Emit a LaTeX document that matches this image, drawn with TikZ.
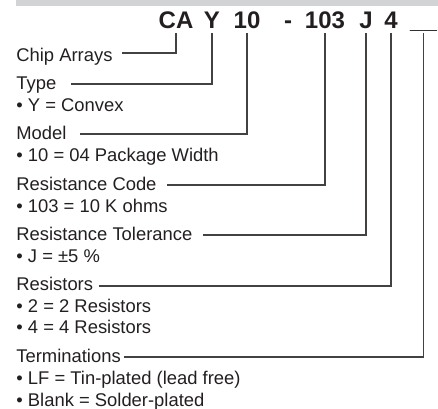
\documentclass[tikz,border=0pt]{standalone}
\usepackage{fontspec}
\setmainfont{Liberation Sans}
\definecolor{barcolor}{RGB}{209,211,212}
\definecolor{inkcolor}{RGB}{35,31,32}

\begin{document}
\begin{tikzpicture}[x=0.5pt,y=-0.5pt,
  codepart/.style={anchor=base,inner sep=0pt,text=inkcolor,
    font=\fontsize{12}{14}\selectfont\bfseries},
  fieldname/.style={anchor=base west,inner sep=0pt,text=inkcolor,
    font=\fontsize{9.2}{11}\selectfont},
  fieldnote/.style={fieldname},
  lead/.style={draw=inkcolor!85,line width=0.6pt}]
  \useasboundingbox (0,0) rectangle (438,408);
  \fill[barcolor] (16,0) rectangle (438,6);

  \node[codepart] (ca) at (176,28) {CA};
  \node[codepart] (type) at (212,28) {Y};
  \node[codepart] (model) at (247,28) {10};
  \node[codepart] (dash) at (288,28) {-};
  \node[codepart] (code) at (325,28) {103};
  \node[codepart] (tol) at (366,28) {J};
  \node[codepart] (count) at (391,28) {4};
  \node[codepart] (term) at (423.5,28) {\_\_};

  \node[fieldname] (chipname) at (16,61) {Chip Arrays};
  \node[fieldname] (typename) at (16,89) {Type};
  \node[fieldnote] (typenote) at (16,111) {• Y = Convex};
  \node[fieldname] (modelname) at (16,139) {Model};
  \node[fieldnote] (modelnote) at (16,161) {• 10 = 04 Package Width};
  \node[fieldname] (codename) at (16,190) {Resistance Code};
  \node[fieldnote] (codenote) at (16,212) {• 103 = 10 K ohms};
  \node[fieldname] (tolname) at (16,240) {Resistance Tolerance};
  \node[fieldnote] (tolnote) at (16,262) {• J = ±5 \%};
  \node[fieldname] (countname) at (16,290) {Resistors};
  \node[fieldnote] (countnotea) at (16,312) {• 2 = 2 Resistors};
  \node[fieldnote] (countnoteb) at (16,333) {• 4 = 4 Resistors};
  \node[fieldname] (termname) at (16,362) {Terminations};
  \node[fieldnote] (termnotea) at (16,384) {• LF = Tin-plated (lead free)};
  \node[fieldnote] (termnoteb) at (16,406) {• Blank = Solder-plated};

  \coordinate (chipend) at (122,53);
  \coordinate (typeend) at (71,84);
  \coordinate (modelend) at (80,134);
  \coordinate (codeend) at (167,185);
  \coordinate (tolend) at (203,235);
  \coordinate (countend) at (99,286);
  \coordinate (termend) at (124,357);

  \draw[lead] (ca.base) ++(0,5) |- (chipend);
  \draw[lead] (type.base) ++(0,5) |- (typeend);
  \draw[lead] (model.base) ++(0,5) |- (modelend);
  \draw[lead] (code.base) ++(0,5) |- (codeend);
  \draw[lead] (tol.base) ++(0,5) |- (tolend);
  \draw[lead] (count.base) ++(0,5) |- (countend);
  \draw[lead] (term.base) ++(0,5) |- (termend);
\end{tikzpicture}
\end{document}
